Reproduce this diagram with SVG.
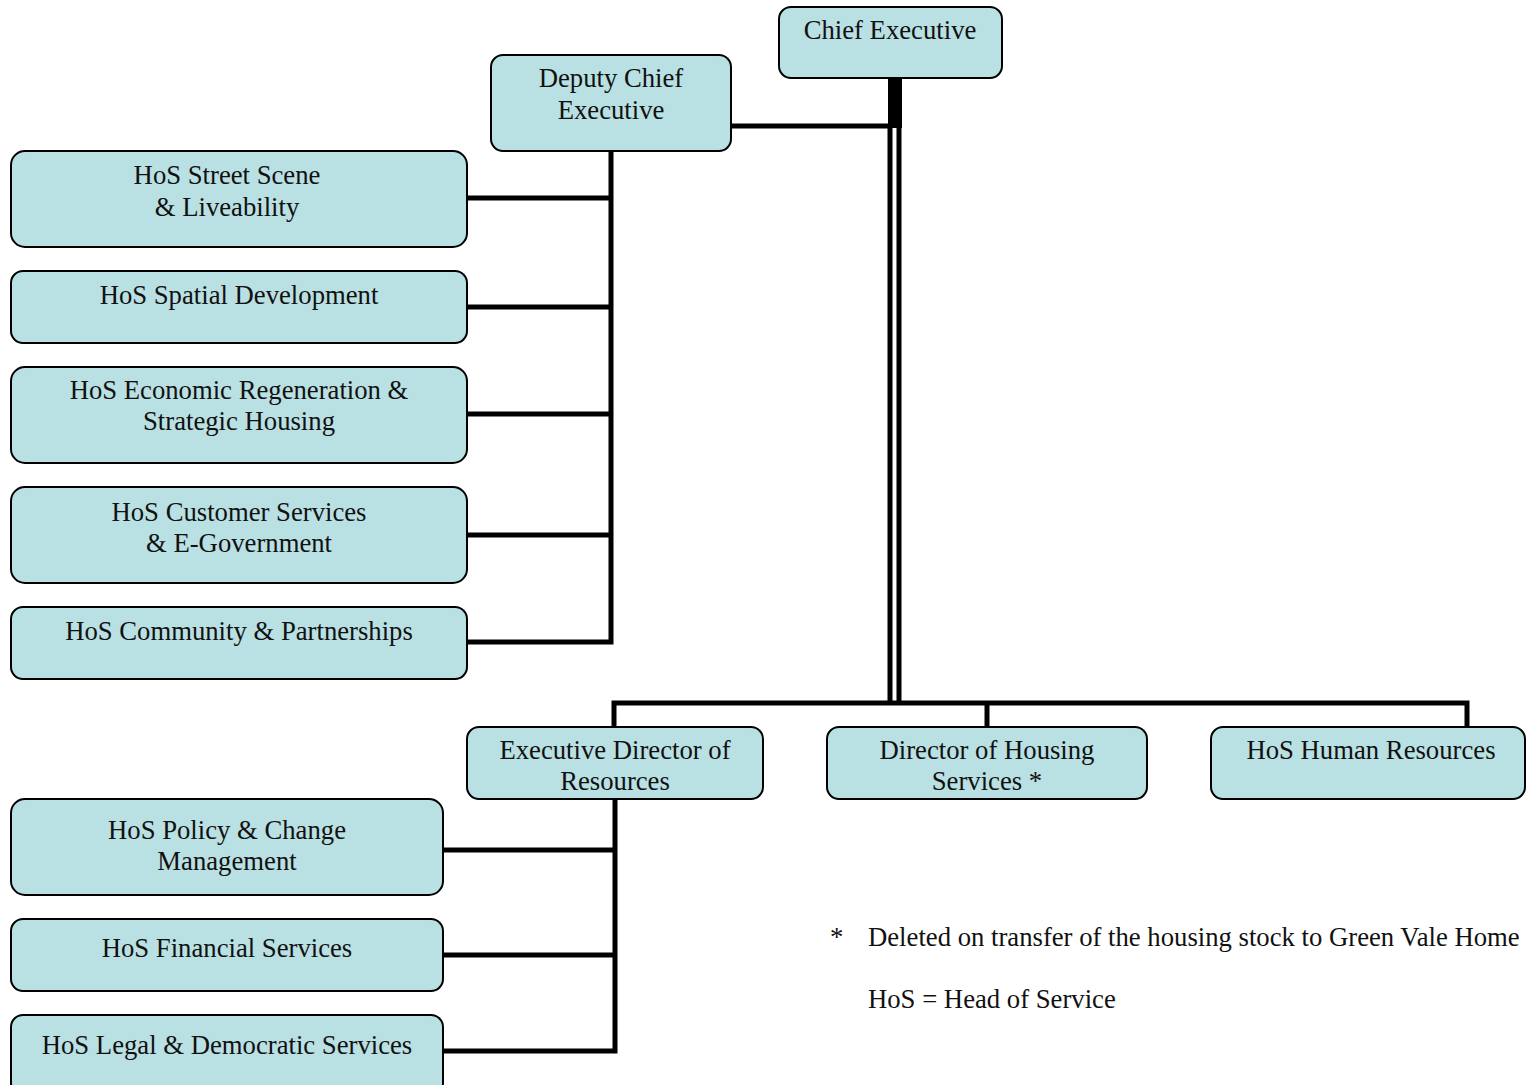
<svg xmlns="http://www.w3.org/2000/svg" width="1526" height="1085" viewBox="0 0 1526 1085">
<style>
.box{fill:#b9e0e3;stroke:#000;stroke-width:2}
.t{font-family:"Liberation Serif","Times New Roman",serif;font-size:26.7px;fill:#111;text-anchor:middle}
.n{font-family:"Liberation Serif","Times New Roman",serif;font-size:26.7px;fill:#111}
.c{stroke:#000;fill:none;stroke-width:5}
</style>
<rect width="1526" height="1085" fill="#fff"/>
<g id="connectors">
<rect x="888" y="78" width="14" height="50" fill="#000"/>
<line class="c" x1="890" y1="126" x2="890" y2="703" stroke-width="6"/>
<line class="c" x1="899" y1="126" x2="899" y2="703" stroke-width="6"/>
<line class="c" x1="731" y1="126" x2="890" y2="126"/>
<polyline class="c" points="611,150 611,642 467,642"/>
<line class="c" x1="467" y1="198" x2="611" y2="198"/>
<line class="c" x1="467" y1="307" x2="611" y2="307"/>
<line class="c" x1="467" y1="414" x2="611" y2="414"/>
<line class="c" x1="467" y1="535" x2="611" y2="535"/>
<polyline class="c" points="614,727 614,703 1467,703 1467,727"/>
<line class="c" x1="987" y1="703" x2="987" y2="727"/>
<polyline class="c" points="615,799 615,1051 443,1051"/>
<line class="c" x1="443" y1="850" x2="615" y2="850"/>
<line class="c" x1="443" y1="955" x2="615" y2="955"/>
</g>
<g id="chief-executive"><rect class="box" x="779" y="7" width="223" height="71" rx="12"/><text class="t" x="890" y="39">Chief Executive</text></g>
<g id="deputy-chief-executive"><rect class="box" x="491" y="55" width="240" height="96" rx="12"/><text class="t" x="611" y="87">Deputy Chief</text><text class="t" x="611" y="119">Executive</text></g>
<g id="hos-street-scene"><rect class="box" x="11" y="151" width="456" height="96" rx="14"/><text class="t" x="227" y="184">HoS Street Scene</text><text class="t" x="227" y="216">&amp; Liveability</text></g>
<g id="hos-spatial"><rect class="box" x="11" y="271" width="456" height="72" rx="12"/><text class="t" x="239" y="304">HoS Spatial Development</text></g>
<g id="hos-economic"><rect class="box" x="11" y="367" width="456" height="96" rx="14"/><text class="t" x="239" y="399">HoS Economic Regeneration &amp;</text><text class="t" x="239" y="430">Strategic Housing</text></g>
<g id="hos-customer"><rect class="box" x="11" y="487" width="456" height="96" rx="14"/><text class="t" x="239" y="521">HoS Customer Services</text><text class="t" x="239" y="552">&amp; E-Government</text></g>
<g id="hos-community"><rect class="box" x="11" y="607" width="456" height="72" rx="12"/><text class="t" x="239" y="640">HoS Community &amp; Partnerships</text></g>
<g id="exec-director-resources"><rect class="box" x="467" y="727" width="296" height="72" rx="12"/><text class="t" x="615" y="759">Executive Director of</text><text class="t" x="615" y="790">Resources</text></g>
<g id="director-housing"><rect class="box" x="827" y="727" width="320" height="72" rx="12"/><text class="t" x="987" y="759">Director of Housing</text><text class="t" x="987" y="790">Services *</text></g>
<g id="hos-hr"><rect class="box" x="1211" y="727" width="314" height="72" rx="12"/><text class="t" x="1371" y="759">HoS Human Resources</text></g>
<g id="hos-policy"><rect class="box" x="11" y="799" width="432" height="96" rx="14"/><text class="t" x="227" y="839">HoS Policy &amp; Change</text><text class="t" x="227" y="870">Management</text></g>
<g id="hos-financial"><rect class="box" x="11" y="919" width="432" height="72" rx="12"/><text class="t" x="227" y="957">HoS Financial Services</text></g>
<g id="hos-legal"><rect class="box" x="11" y="1015" width="432" height="80" rx="12"/><text class="t" x="227" y="1054">HoS Legal &amp; Democratic Services</text></g>
<g id="notes">
<text class="n" x="830" y="946">*</text>
<text class="n" x="868" y="946">Deleted on transfer of the housing stock to Green Vale Home</text>
<text class="n" x="868" y="1008">HoS = Head of Service</text>
</g>
</svg>
